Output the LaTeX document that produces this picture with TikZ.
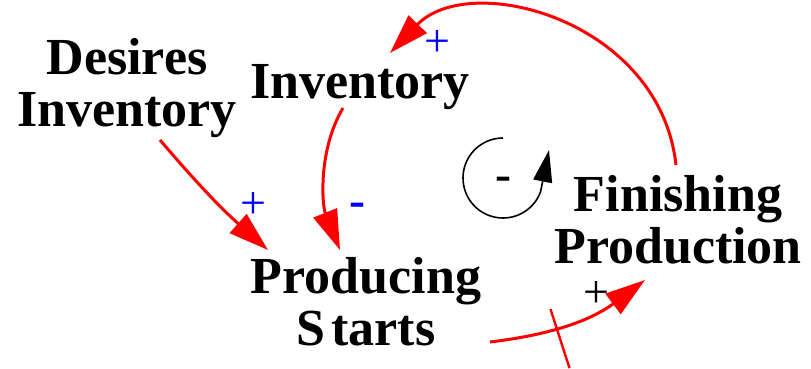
\documentclass[tikz,border=0pt]{standalone}
\usepackage{fontspec}
\setmainfont{Liberation Serif}
\usetikzlibrary{arrows.meta}
\definecolor{signblue}{RGB}{0,0,255}

\begin{document}
\begin{tikzpicture}[
  x=1pt, y=-1pt,
  var/.style={
    align=center,
    inner sep=0pt,
    font=\fontsize{52}{52}\selectfont\bfseries
  },
  link/.style={
    red,
    line width=3pt,
    -{Triangle[length=40pt, width=25pt]}
  },
  sign/.style={
    inner sep=0pt,
    font=\fontsize{46}{46}\selectfont
  },
  bsign/.style={
    inner sep=0pt,
    font=\fontsize{48}{48}\selectfont\bfseries
  }
]
\useasboundingbox (0,0) rectangle (811,369);

% -------- Variables --------
\node[var] (desired) at (127, 88) {Desires\\Inventory};
\node[var] (inv)     at (360, 87) {Inventory};
\node[var] (starts)  at (366,302) {Producing\\S\hspace{6pt}tarts};
\node[var] (finish)  at (678,220) {Finishing\\Production};

% -------- Links --------
\draw[link] ([shift={(33,52)}]desired.center) to[bend right=4]
  ([shift={(-98,-52)}]starts.center);

\draw[link] ([shift={(-17,21)}]inv.center)
  .. controls (318,150) and (322,205) .. ([shift={(-26,-52)}]starts.center);

\draw[link] ([shift={(-2,-55)}]finish.center)
  .. controls (660,20) and (470,-30) .. ([shift={(30,-34)}]inv.center);

\draw[link] ([shift={(124,40)}]starts.center) to[bend right=15]
  coordinate[pos=0.4] (delay) ([shift={(-33,60)}]finish.center);

% -------- Delay mark --------
\draw[red, line width=2.4pt] ([shift={(-7,-19)}]delay) -- ([shift={(12,40)}]delay);

% -------- Polarities --------
\node[sign, signblue] (p1) at (253,206) {+};
\node[bsign, signblue] (m1) at (357,210) {-};
\node[sign, signblue] (p2) at (437,44) {+};
\node[sign] (p3) at (596,295) {+};

% -------- Loop symbol --------
\draw[line width=1.6pt, -{Triangle[length=32pt, width=19pt]}]
  (503,138) arc[start angle=-90, end angle=-340, radius=40] -- (549,150);
\node[bsign] (loop) at (503,184) {-};

\end{tikzpicture}
\end{document}
